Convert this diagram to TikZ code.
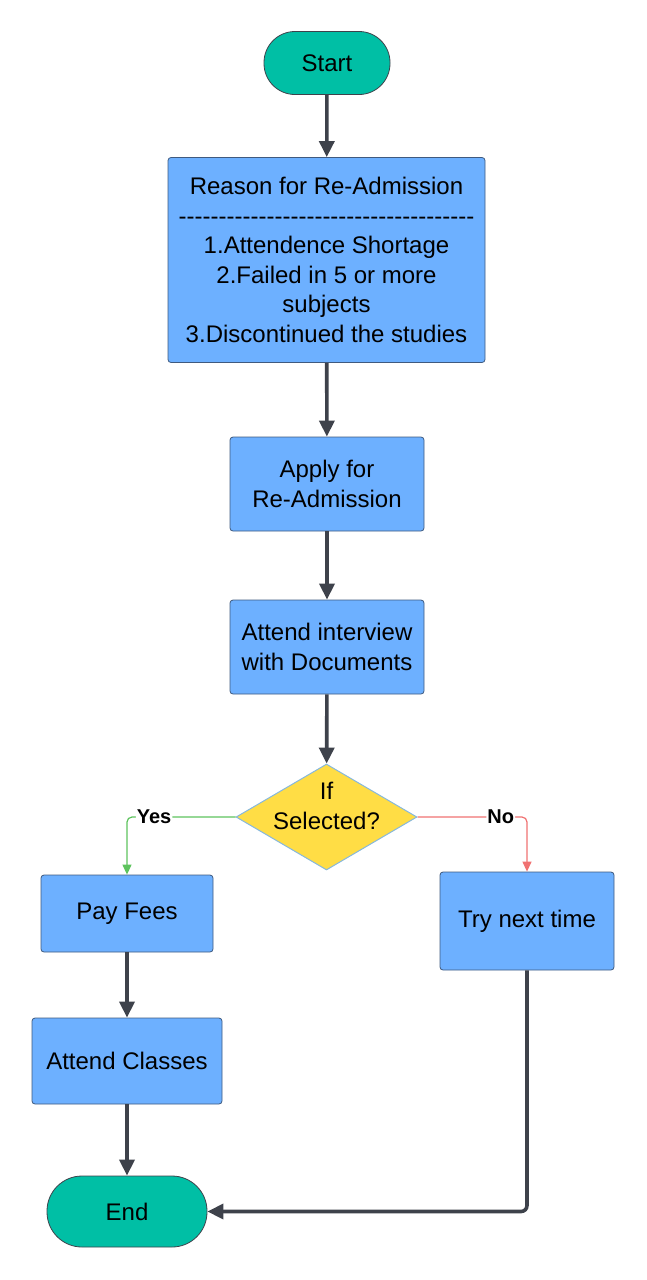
\documentclass[tikz,border=0pt]{standalone}
\usepackage{fontspec}
\setmainfont{Liberation Sans}[Ligatures=TeXOff]
\usetikzlibrary{shapes.geometric,arrows.meta}
\definecolor{teal}{HTML}{00BFA5}
\definecolor{boxblue}{HTML}{6DB0FF}
\definecolor{boxedge}{HTML}{3F5A7F}
\definecolor{decyellow}{HTML}{FFDD45}
\definecolor{decedge}{HTML}{86B8DD}
\definecolor{arrowgray}{HTML}{3E424B}
\definecolor{yesgreen}{HTML}{5DC35D}
\definecolor{nored}{HTML}{F07272}
\tikzset{
  terminal/.style={draw=arrowgray, fill=teal, rounded corners=31pt, line width=0.8pt, font=\fontsize{24}{28}\selectfont},
  process/.style={draw=boxedge, fill=boxblue, rounded corners=3pt, line width=0.8pt, align=center, font=\fontsize{24}{29.5}\selectfont},
  decision/.style={diamond, draw=decedge, fill=decyellow, line width=1pt, aspect=1.7, inner sep=-10pt, text depth=22pt, minimum width=181pt, minimum height=106pt, align=center, font=\fontsize{24}{29.5}\selectfont},
  flow/.style={draw=arrowgray, line width=3.6pt, -{Triangle[length=16pt,width=15pt]}},
  yesline/.style={draw=yesgreen, line width=1.2pt, rounded corners=5pt, -{Triangle[length=10pt,width=9pt]}},
  noline/.style={draw=nored, line width=1.2pt, rounded corners=5pt, -{Triangle[length=10pt,width=9pt]}},
  answer/.style={fill=white, inner sep=1pt, font=\fontsize{20}{22}\selectfont\bfseries}
}
\begin{document}
\begin{tikzpicture}[x=1pt, y=-1pt]
  \useasboundingbox (0,0) rectangle (646,1280);

  \node[terminal, minimum width=126pt, minimum height=63pt] (start) at (327,63) {Start};
  \node[process, minimum width=317pt, minimum height=205pt] (reason) at (326.5,260)
    {Reason for Re-Admission\\
     -------------------------------------\\
     1.Attendence Shortage\\
     2.Failed in 5 or more\\
     subjects\\
     3.Discontinued the studies};
  \node[process, minimum width=194pt, minimum height=94pt] (apply) at (327,484) {Apply for\\Re-Admission};
  \node[process, minimum width=194pt, minimum height=94pt] (interview) at (327,647) {Attend interview\\with Documents};
  \node[decision] (selected) at (326.5,817) {If\\Selected?};
  \node[process, minimum width=172pt, minimum height=77pt] (fees) at (127,913.5) {Pay Fees};
  \node[process, minimum width=174pt, minimum height=98pt] (retry) at (527,921) {Try next time};
  \node[process, minimum width=190pt, minimum height=86pt] (classes) at (127,1061) {Attend Classes};
  \node[terminal, minimum width=160pt, minimum height=71pt, rounded corners=35pt] (finish) at (127,1211.5) {End};

  \draw[flow] (start) -- (reason);
  \draw[flow] (reason) -- (apply);
  \draw[flow] (apply) -- (interview);
  \draw[flow] (interview) -- (selected);
  \draw[yesline] (selected.west) -| node[answer, pos=0.375] {Yes} (fees.north);
  \draw[noline] (selected.east) -| node[answer, pos=0.38] {No} (retry.north);
  \draw[flow] (fees) -- (classes);
  \draw[flow] (classes) -- (finish);
  \draw[flow, rounded corners=6pt] (retry.south) |- (finish.east);
\end{tikzpicture}
\end{document}
